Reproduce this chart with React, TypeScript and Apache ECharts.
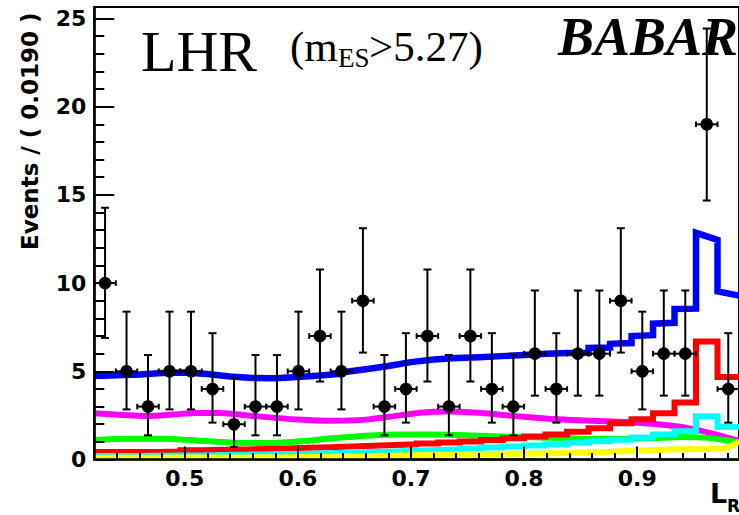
import React, { useEffect, useRef } from "react";
import * as echarts from "echarts";

// Binning of the L_R histogram
const BIN_LO = 0.42;
const BIN_W = 0.019;
const X_MAX = 0.99;
const Y_MAX = 25.65;

// Observed events per bin and their Poisson (68%) intervals
const COUNTS = [10, 5, 3, 5, 5, 4, 2, 3, 3, 5, 7, 5, 9, 3, 4, 7, 3, 7, 4, 3, 6, 4, 6, 6, 9, 5, 6, 6, 19, 4];
const ERR_LO = [6.89, 2.84, 1.37, 2.84, 2.84, 2.09, 0.71, 1.37, 1.37, 2.84, 4.42, 2.84, 6.06, 1.37, 2.09, 4.42, 1.37, 4.42, 2.09, 1.37, 3.62, 2.09, 3.62, 3.62, 6.06, 2.84, 3.62, 3.62, 14.68, 2.09];
const ERR_HI = [14.27, 8.38, 5.92, 8.38, 8.38, 7.16, 4.64, 5.92, 5.92, 8.38, 10.77, 8.38, 13.11, 5.92, 7.16, 10.77, 5.92, 10.77, 7.16, 5.92, 9.58, 7.16, 9.58, 9.58, 13.11, 8.38, 9.58, 9.58, 24.43, 7.16];

// Histogram-shaped fit components (value per bin)
const RED_HIST = [0.42, 0.42, 0.43, 0.45, 0.52, 0.55, 0.57, 0.6, 0.63, 0.67, 0.7, 0.74, 0.78, 0.82, 0.86, 0.91, 0.96, 1.02, 1.1, 1.2, 1.3, 1.42, 1.57, 1.77, 2.05, 2.28, 2.62, 3.23, 6.69, 4.67];
const CYAN_HIST = [0.2, 0.2, 0.21, 0.22, 0.23, 0.25, 0.27, 0.29, 0.31, 0.33, 0.36, 0.39, 0.42, 0.46, 0.5, 0.54, 0.58, 0.63, 0.68, 0.74, 0.8, 0.87, 0.95, 1.03, 1.12, 1.25, 1.42, 1.6, 2.45, 1.85];

// Smooth fit components [L_R, events]
const MAGENTA_CURVE = [
  [0.42, 2.62], [0.445, 2.52], [0.467, 2.46], [0.49, 2.55], [0.51, 2.64], [0.53, 2.64], [0.56, 2.47],
  [0.6, 2.27], [0.63, 2.2], [0.66, 2.26], [0.69, 2.5], [0.71, 2.66], [0.73, 2.72], [0.76, 2.65],
  [0.78, 2.53], [0.8, 2.42], [0.83, 2.28], [0.86, 2.19], [0.89, 2.12], [0.92, 1.98], [0.945, 1.78],
  [0.965, 1.5], [0.99, 1.05],
];
const GREEN_CURVE = [
  [0.42, 1.1], [0.45, 1.18], [0.48, 1.17], [0.51, 1.08], [0.54, 0.97], [0.57, 0.93], [0.6, 1.02],
  [0.63, 1.2], [0.66, 1.35], [0.69, 1.42], [0.72, 1.42], [0.76, 1.35], [0.8, 1.27], [0.84, 1.2],
  [0.88, 1.16], [0.91, 1.2], [0.94, 1.28], [0.96, 1.24], [0.975, 1.12], [0.99, 0.98],
];
const YELLOW_CURVE = [
  [0.42, 0.1], [0.5, 0.11], [0.56, 0.12], [0.62, 0.15], [0.7, 0.24], [0.76, 0.3], [0.83, 0.36],
  [0.86, 0.4], [0.9, 0.5], [0.93, 0.56], [0.96, 0.6], [0.975, 0.62], [0.99, 1.02],
];

// Total fit
const BLUE_CURVE = [
  [0.42, 4.74], [0.44, 4.78], [0.46, 4.82], [0.48, 4.9], [0.5, 4.93], [0.52, 4.85], [0.54, 4.7],
  [0.56, 4.62], [0.58, 4.6], [0.6, 4.67], [0.62, 4.76], [0.637, 4.85], [0.64, 4.95], [0.66, 5.12],
  [0.68, 5.3], [0.7, 5.52], [0.72, 5.67], [0.74, 5.75], [0.76, 5.8], [0.78, 5.86], [0.8, 5.92],
  [0.82, 6.0], [0.838, 6.03], [0.857, 6.05], [0.857, 6.32], [0.876, 6.35], [0.876, 6.56],
  [0.895, 6.6], [0.895, 7.0], [0.914, 7.05], [0.914, 7.7], [0.933, 7.75], [0.933, 8.53],
  [0.952, 8.55], [0.952, 12.85], [0.971, 12.45], [0.971, 9.53], [0.99, 9.29],
];

// Axis ticks
const X_MAJOR = [0.5, 0.6, 0.7, 0.8, 0.9];
const X_MINOR = [0.44, 0.46, 0.48, 0.52, 0.54, 0.56, 0.58, 0.62, 0.64, 0.66, 0.68, 0.72, 0.74, 0.76, 0.78, 0.82, 0.84, 0.86, 0.88, 0.92, 0.94, 0.96, 0.98];
const Y_MAJOR = [0, 5, 10, 15, 20, 25];
const Y_MINOR = [1, 2, 3, 4, 6, 7, 8, 9, 11, 12, 13, 14, 16, 17, 18, 19, 21, 22, 23, 24];

const SANS = "DejaVu Sans";
const SERIF = "Liberation Serif";

function histSteps(values: number[]) {
  const pts: number[][] = [];
  values.forEach((v, k) => {
    pts.push([BIN_LO + k * BIN_W, v]);
    pts.push([BIN_LO + (k + 1) * BIN_W, v]);
  });
  return pts;
}

function curve(name: string, color: string, data: number[][], smooth: number | boolean, width = 6) {
  return {
    name,
    type: "line",
    data,
    smooth,
    symbol: "none",
    showSymbol: false,
    xAxisIndex: 0,
    yAxisIndex: 0,
    z: 3,
    lineStyle: { color, width, join: "miter", cap: "butt" },
  };
}

function text(x: number, y: number, str: string, size: number, family: string, extra: any = {}) {
  return {
    type: "text",
    x,
    y,
    rotation: extra.rotation || 0,
    z: 1,
    style: {
      text: str,
      fontSize: size,
      fontFamily: family,
      fontWeight: extra.fontWeight || "normal",
      fontStyle: extra.fontStyle || "normal",
      fill: "#000",
      align: extra.align || "left",
      textAlign: extra.align || "left",
      verticalAlign: "middle",
      textVerticalAlign: "middle",
    },
  };
}

export default function App() {
  const ref = useRef<HTMLDivElement>(null);

  useEffect(() => {
    if (!ref.current) return;
    const chart = echarts.init(ref.current, null, { renderer: "svg" });

    const points = COUNTS.map((c, k) => [BIN_LO + (k + 0.5) * BIN_W, c, ERR_LO[k], ERR_HI[k]]);

    const tickLabel = { fontFamily: SANS, fontWeight: "bold", fontSize: 22, color: "#000" };
    const line = { color: "#000", width: 2 };

    chart.setOption({
      animation: false,
      grid: {
        left: 94.3,
        top: 7,
        width: 646.4,
        height: 452.5,
        show: true,
        borderColor: "#000",
        borderWidth: 2,
        backgroundColor: "transparent",
      },
      xAxis: [
        {
          type: "value",
          min: BIN_LO,
          max: X_MAX,
          position: "bottom",
          z: 5,
          axisLine: { show: true, onZero: false, lineStyle: { color: "#000", width: 2.5 } },
          axisTick: { show: true, inside: true, length: 13, lineStyle: line, customValues: X_MAJOR },
          axisLabel: {
            ...tickLabel,
            margin: 8,
            customValues: X_MAJOR,
            formatter: (v: number) => v.toFixed(1),
          },
          splitLine: { show: false },
        },
        {
          type: "value",
          min: BIN_LO,
          max: X_MAX,
          position: "bottom",
          z: 5,
          axisLine: { show: false },
          axisTick: { show: true, inside: true, length: 6.5, lineStyle: line, customValues: X_MINOR },
          axisLabel: { show: false },
          splitLine: { show: false },
        },
      ],
      yAxis: [
        {
          type: "value",
          min: 0,
          max: Y_MAX,
          position: "left",
          z: 5,
          axisLine: { show: true, onZero: false, lineStyle: { color: "#000", width: 2.5 } },
          axisTick: { show: true, inside: true, length: 20, lineStyle: line, customValues: Y_MAJOR },
          axisLabel: { ...tickLabel, margin: 8, customValues: Y_MAJOR, formatter: (v: number) => String(v) },
          splitLine: { show: false },
        },
        {
          type: "value",
          min: 0,
          max: Y_MAX,
          position: "left",
          z: 5,
          axisLine: { show: false },
          axisTick: { show: true, inside: true, length: 10, lineStyle: line, customValues: Y_MINOR },
          axisLabel: { show: false },
          splitLine: { show: false },
        },
      ],
      graphic: [
        text(141, 51.4, "LHR", 58, SERIF),
        text(290, 46.5, "(m", 43, SERIF),
        text(338, 57.9, "ES", 27, SERIF),
        text(369, 46.5, ">5.27)", 43, SERIF),
        text(738, 36.8, "BABAR", 54, SERIF, { fontWeight: "bold", fontStyle: "italic", align: "right" }),
        text(30, 250, "Events / ( 0.0190 )", 23, SANS, { fontWeight: "bold", rotation: Math.PI / 2 }),
        text(710, 493.7, "L", 27, SANS, { fontWeight: "bold" }),
        text(727, 506, "R", 17, SANS, { fontWeight: "bold" }),
      ],
      series: [
        curve("total", "#0000ff", BLUE_CURVE, false, 6.5),
        curve("magenta", "#ff00ff", MAGENTA_CURVE, 0.3),
        curve("green", "#00ff00", GREEN_CURVE, 0.3),
        curve("red", "#ff0000", histSteps(RED_HIST), false),
        curve("cyan", "#00ffff", histSteps(CYAN_HIST), false),
        curve("yellow", "#ffff00", YELLOW_CURVE, 0.3),
        {
          name: "data",
          type: "custom",
          xAxisIndex: 0,
          yAxisIndex: 0,
          z: 10,
          data: points,
          renderItem: (_params: any, api: any) => {
            const x = api.value(0);
            const y = api.value(1);
            const p = api.coord([x, y]);
            const lo = api.coord([x, api.value(2)]);
            const hi = api.coord([x, api.value(3)]);
            const l = api.coord([x - BIN_W / 2, y]);
            const r = api.coord([x + BIN_W / 2, y]);
            const st = { stroke: "#000", lineWidth: 2 };
            const cap = 4;
            const tick = 2.8;
            return {
              type: "group",
              children: [
                { type: "line", shape: { x1: p[0], y1: lo[1], x2: p[0], y2: hi[1] }, style: st },
                { type: "line", shape: { x1: p[0] - cap, y1: hi[1], x2: p[0] + cap, y2: hi[1] }, style: st },
                { type: "line", shape: { x1: p[0] - cap, y1: lo[1], x2: p[0] + cap, y2: lo[1] }, style: st },
                { type: "line", shape: { x1: l[0], y1: p[1], x2: r[0], y2: p[1] }, style: st },
                { type: "line", shape: { x1: l[0], y1: p[1] - tick, x2: l[0], y2: p[1] + tick }, style: st },
                { type: "line", shape: { x1: r[0], y1: p[1] - tick, x2: r[0], y2: p[1] + tick }, style: st },
                { type: "circle", shape: { cx: p[0], cy: p[1], r: 6.3 }, style: { fill: "#000" } },
              ],
            };
          },
        },
      ],
    });

    return () => chart.dispose();
  }, []);

  return (
    <div
      ref={ref}
      style={{ position: "absolute", left: 0, top: 0, width: 739, height: 515, background: "#fff" }}
    />
  );
}
